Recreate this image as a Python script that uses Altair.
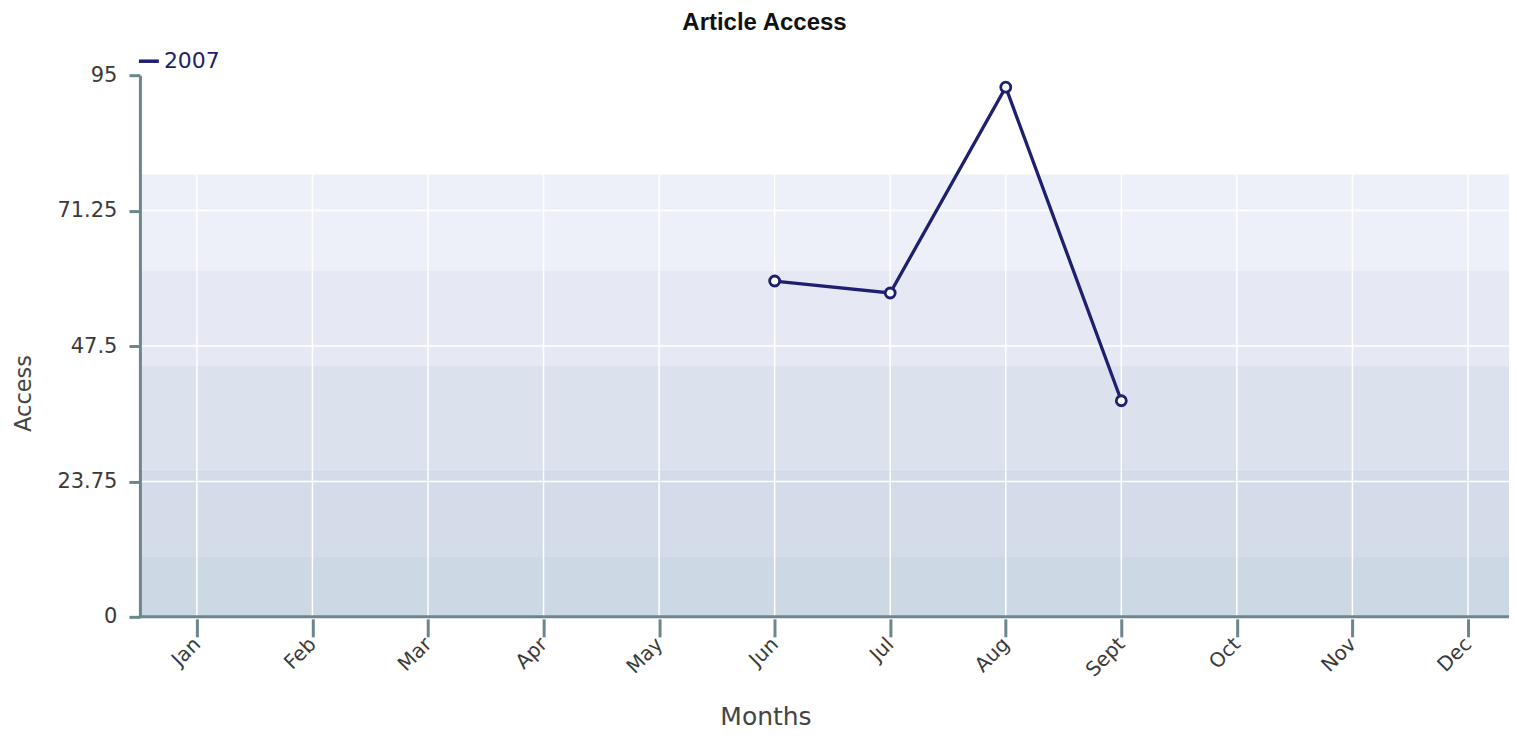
import altair as alt
import pandas as pd

# ---- data ----
months = ["Jan", "Feb", "Mar", "Apr", "May", "Jun", "Jul", "Aug", "Sept", "Oct", "Nov", "Dec"]
series_months = ["Jun", "Jul", "Aug", "Sept"]
series_values = [58.9, 56.8, 92.9, 37.9]
series_name = "2007"
y_ticks = [0, 23.75, 47.5, 71.25, 95]
band_low = [0, 10.5, 25.8, 44.0, 60.8]
band_high = [10.5, 25.8, 44.0, 60.8, 77.6]
band_colors = ["#cdd8e5", "#d4dce9", "#dce2ed", "#e6e9f4", "#edf0f8"]

NAVY = "#1f1f6f"
AXIS = "#6b878c"
TXT = "#3a3a3a"
FONT = "DejaVu Sans"

df = pd.DataFrame({
    "idx": [months.index(m) + 1 for m in series_months],
    "value": series_values,
    "year": [series_name] * len(series_months),
})
bands = pd.DataFrame({"lo": band_low, "hi": band_high, "c": band_colors})
vgrid = pd.DataFrame({
    "idx": list(range(1, len(months) + 1)),
    "lo": [band_low[0]] * len(months),
    "hi": [band_high[-1]] * len(months),
})
hgrid = pd.DataFrame({"v": [t for t in y_ticks if t < band_high[-1]]})
base_line = pd.DataFrame({"v": [y_ticks[0]]})

W, H = 1370, 542
xscale = alt.Scale(domain=[0.507, 12.355], nice=False, zero=False)
yscale = alt.Scale(domain=[0, 95], nice=False)
label_expr = "[" + ",".join(f"'{m}'" for m in months) + "][datum.value - 1]"

x_axis = alt.Axis(
    title="Months",
    values=list(range(1, len(months) + 1)),
    labelExpr=label_expr,
    grid=False,
    domain=False,
    offset=2,
    tickSize=18,
    tickWidth=3,
    tickColor=AXIS,
    labelAngle=-45,
    labelAlign="right",
    labelBaseline="middle",
    labelPadding=4,
    labelFont=FONT,
    labelFontSize=20,
    labelColor=TXT,
    labelOverlap=False,
    labelFlush=False,
    titleFont=FONT,
    titleFontSize=25,
    titleFontWeight="normal",
    titleColor="#444444",
    titleX=626,
    titleY=106,
    titleAlign="center",
    titleBaseline="alphabetic",
    zindex=1,
)

y_axis = alt.Axis(
    title="Access",
    values=y_ticks,
    labelExpr="datum.value + ''",
    grid=False,
    domainColor=AXIS,
    domainWidth=3,
    tickSize=11,
    tickWidth=3,
    tickColor=AXIS,
    labelPadding=12,
    labelFont=FONT,
    labelFontSize=21,
    labelColor=TXT,
    labelOverlap=False,
    labelFlush=False,
    titleFont=FONT,
    titleFontSize=22.5,
    titleFontWeight="normal",
    titleColor="#444444",
    titleX=-104,
    titleY=318,
    titleAngle=-90,
    titleAlign="center",
    titleBaseline="bottom",
    zindex=1,
)

bg = alt.Chart(bands).mark_rect().encode(
    y=alt.Y("lo:Q", scale=yscale, axis=y_axis),
    y2="hi:Q",
    fill=alt.Fill("c:N", scale=None, legend=None),
)

vg = alt.Chart(vgrid).mark_rule(color="white", strokeWidth=1.5).encode(
    x=alt.X("idx:Q", scale=xscale, axis=x_axis),
    y=alt.Y("lo:Q", scale=yscale, axis=y_axis),
    y2="hi:Q",
)

hg = alt.Chart(hgrid).mark_rule(color="white", strokeWidth=1.5).encode(
    y=alt.Y("v:Q", scale=yscale, axis=y_axis),
)

xline = alt.Chart(base_line).mark_rule(color=AXIS, strokeWidth=3).encode(
    y=alt.Y("v:Q", scale=yscale, axis=y_axis),
)

line = alt.Chart(df).mark_line(strokeWidth=3.3).encode(
    x=alt.X("idx:Q", scale=xscale, axis=x_axis),
    y=alt.Y("value:Q", scale=yscale, axis=y_axis),
    color=alt.Color(
        "year:N",
        scale=alt.Scale(range=[NAVY]),
        legend=alt.Legend(
            title=None,
            orient="none",
            legendX=-3,
            legendY=-26,
            symbolType="stroke",
            symbolSize=400,
            symbolStrokeWidth=3.5,
            labelFont=FONT,
            labelFontSize=22,
            labelColor=NAVY,
            labelOffset=3,
            padding=0,
        ),
    ),
)

pts = alt.Chart(df).mark_point(
    shape="circle", size=100, fill="white", fillOpacity=1, stroke=NAVY, strokeWidth=2.8, opacity=1
).encode(
    x=alt.X("idx:Q", scale=xscale, axis=x_axis),
    y=alt.Y("value:Q", scale=yscale, axis=y_axis),
)

chart = alt.layer(bg, vg, hg, xline, line, pts).properties(
    width=W,
    height=H,
    title=alt.TitleParams(
        "Article Access",
        font="Liberation Sans",
        fontSize=24,
        fontWeight="bold",
        color="#111111",
        anchor="middle",
        dx=-60,
        offset=14,
    ),
    autosize=alt.AutoSizeParams(type="none"),
    padding={"left": 132, "top": 67, "right": 0, "bottom": 113},
).configure(background="white").configure_view(stroke="transparent", strokeWidth=0)

chart.save("out.html", embed_options={"renderer": "svg", "actions": False})
